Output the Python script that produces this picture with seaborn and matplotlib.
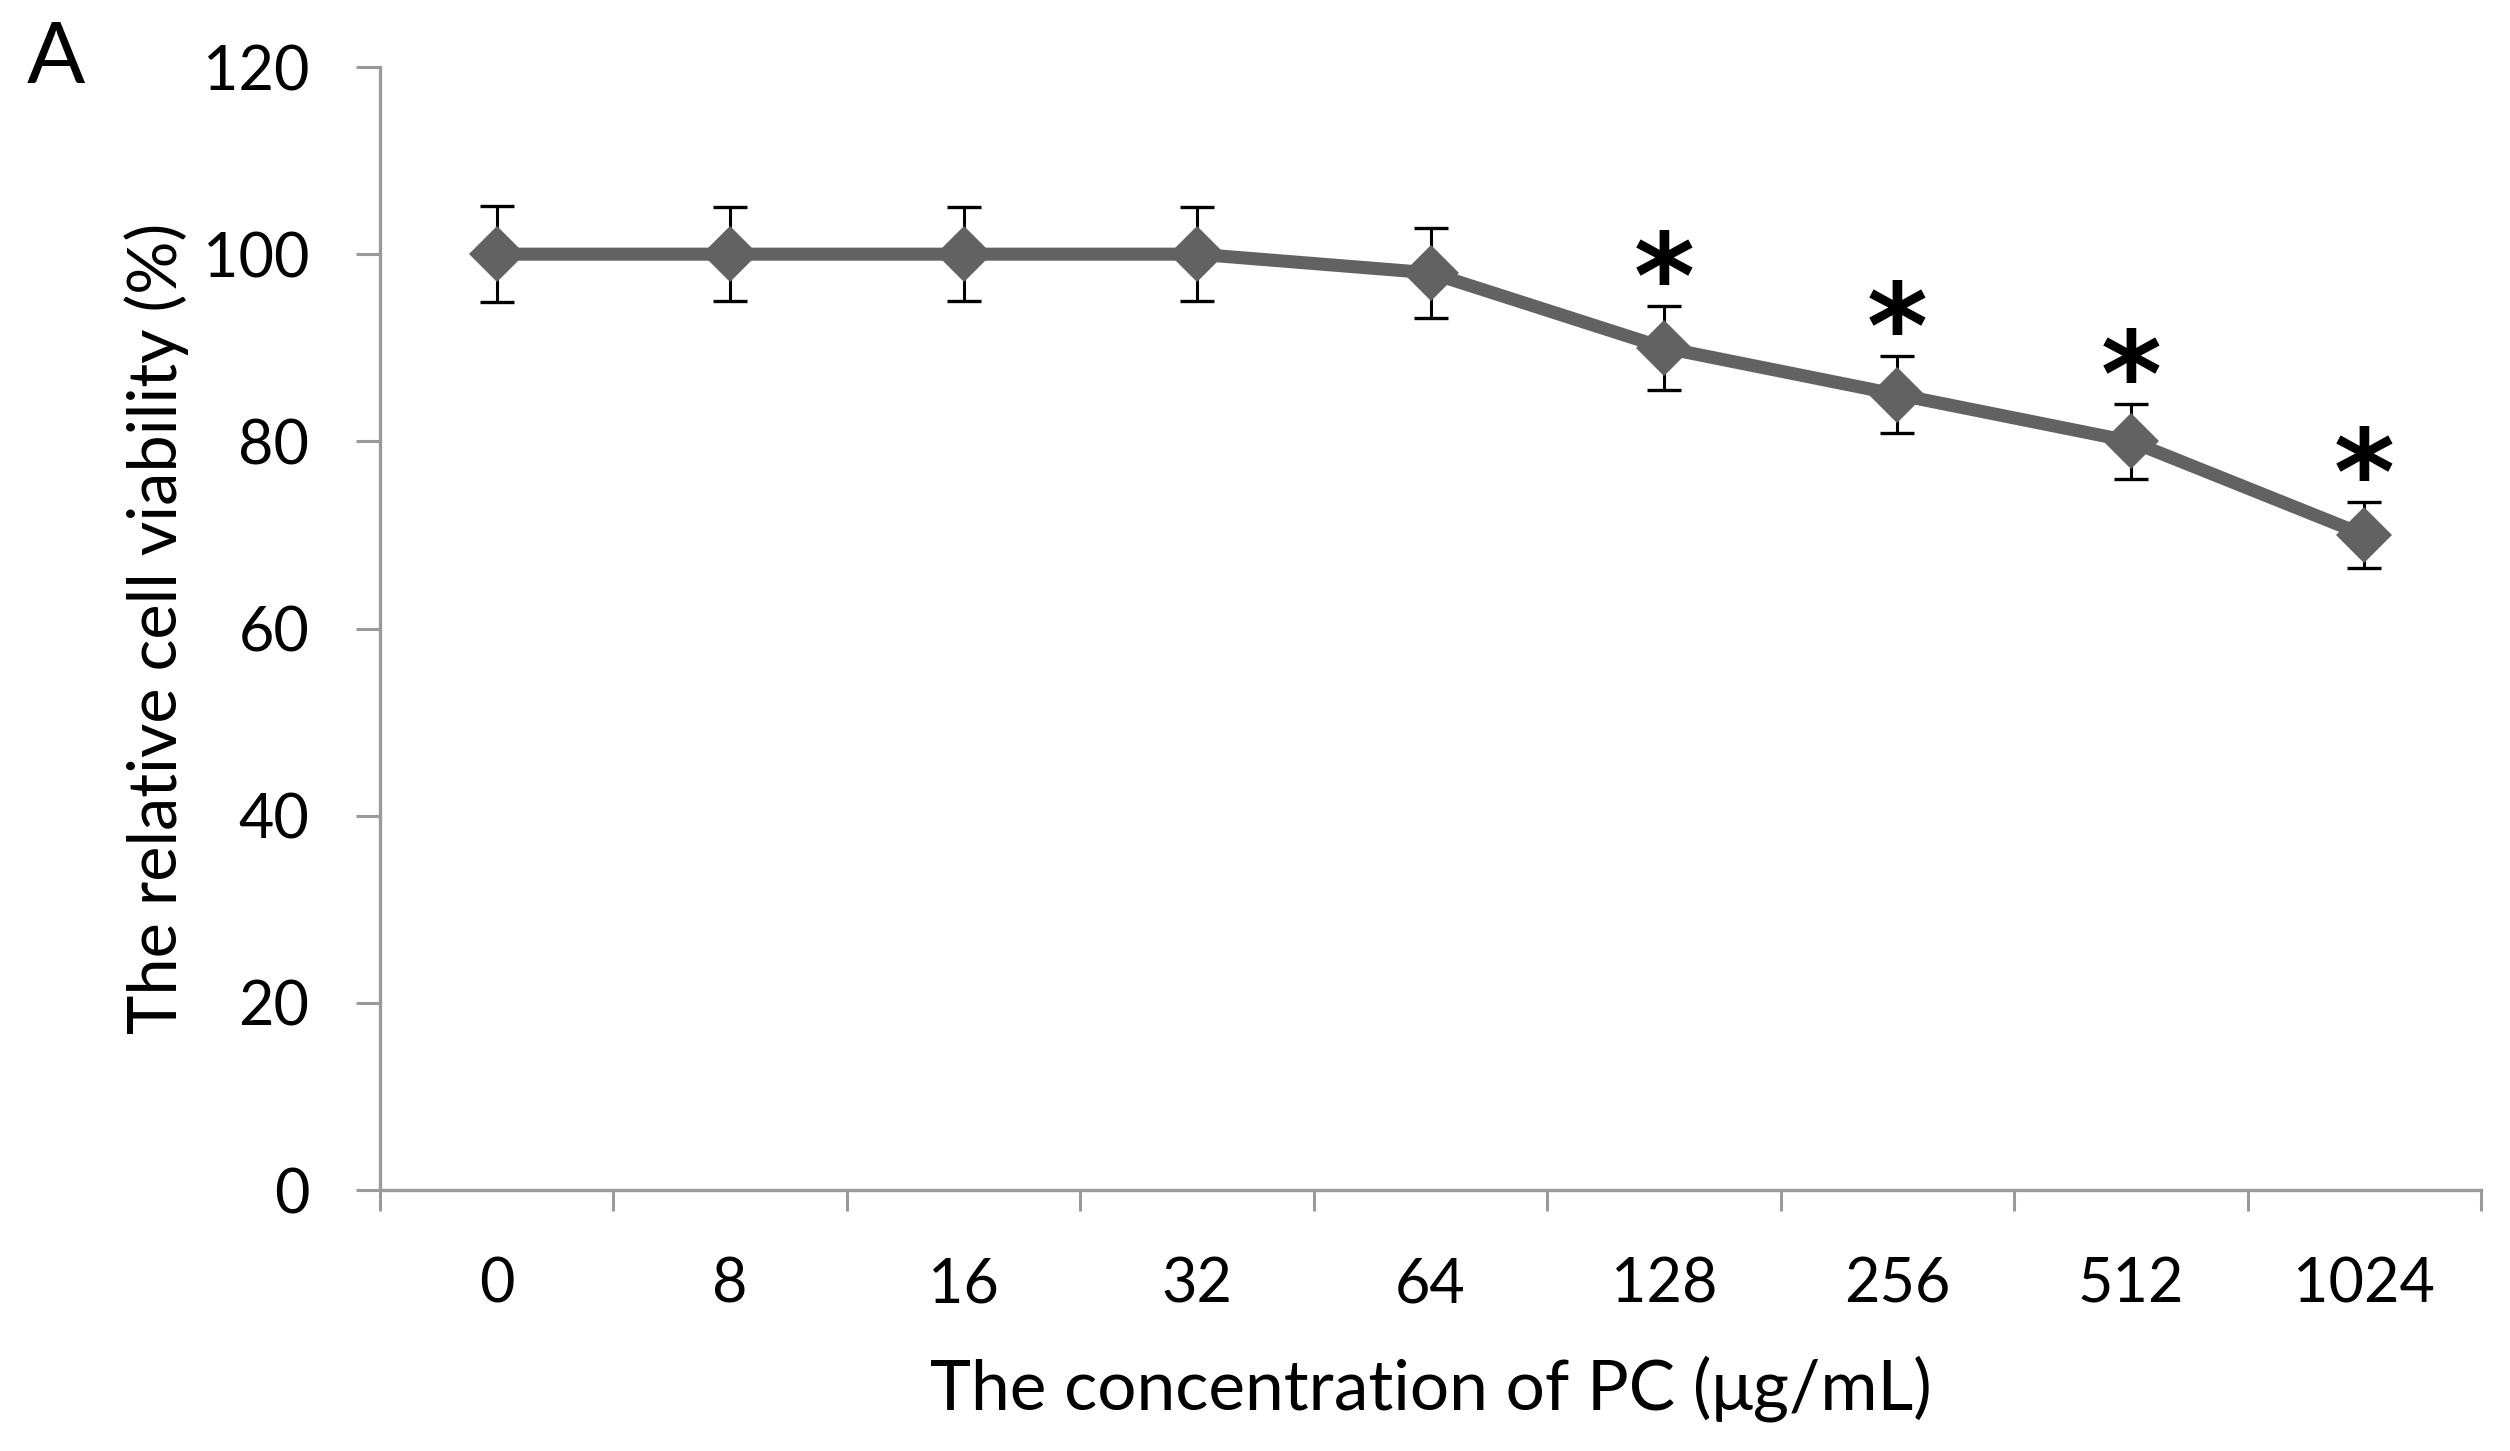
import matplotlib
matplotlib.use("Agg")
import matplotlib.pyplot as plt
import seaborn as sns
import numpy as np
import pandas as pd
from matplotlib.ticker import FixedLocator

# ---- data ----
concentrations = ["0", "8", "16", "32", "64", "128", "256", "512", "1024"]
viability = [100, 100, 100, 100, 98, 90, 85, 80, 70]
errors = [5.1, 5.0, 5.0, 5.0, 4.8, 4.5, 4.1, 4.0, 3.5]
significant = [False, False, False, False, False, True, True, True, True]
y_ticks = [0, 20, 40, 60, 80, 100, 120]

sns.set_style("white")
plt.rcParams["font.family"] = ["Lato", "DejaVu Sans"]

DPI = 100
fig = plt.figure(figsize=(2510 / DPI, 1451 / DPI), dpi=DPI)
ax = fig.add_axes([380 / 2510, 1 - 1190 / 1451, (2481 - 380) / 2510, (1190 - 67) / 1451])

df = pd.DataFrame({"conc": concentrations, "viab": viability})

sns.pointplot(data=df, x="conc", y="viab", order=concentrations, errorbar=None,
              color="#626262", markers="D", linestyles="-", ax=ax,
              markersize=28.5, linewidth=9.4, markeredgewidth=0)

xpos = np.arange(len(concentrations))
ax.errorbar(xpos, viability, yerr=errors, fmt="none", ecolor="black",
            elinewidth=2.2, capsize=12, capthick=2.4, zorder=1.5)

for i, (v, e, s) in enumerate(zip(viability, errors, significant)):
    if s:
        ax.annotate("*", xy=(i, v + e), xytext=(0, -12), textcoords="offset pixels",
                    ha="center", va="baseline", fontsize=84, fontweight="bold",
                    family=["DejaVu Sans"], color="black")

ax.set_xlim(-0.5, len(concentrations) - 0.5)
ax.set_ylim(0, 120)
ax.set_yticks(y_ticks)
ax.set_yticklabels([str(t) for t in y_ticks])
ax.set_xticks(xpos)
ax.set_xticklabels(concentrations)
ax.xaxis.set_minor_locator(FixedLocator(np.arange(-0.5, len(concentrations), 1.0)))

axis_color = "#9a9a9a"
for side in ["top", "right"]:
    ax.spines[side].set_visible(False)
for side in ["left", "bottom"]:
    ax.spines[side].set_color(axis_color)
    ax.spines[side].set_linewidth(2.4)

ax.tick_params(which="both", bottom=True, left=True, top=False, right=False)
ax.tick_params(axis="y", which="major", direction="out", length=17, width=2.2,
               color=axis_color, labelsize=44, pad=34, labelcolor="black")
ax.tick_params(axis="x", which="major", length=0, labelsize=44, pad=48, labelcolor="black")
ax.tick_params(axis="x", which="minor", direction="out", length=15, width=2.2, color=axis_color)

ax.set_xlabel("The concentration of PC (μg/mL)", fontsize=50, labelpad=30, color="black")
ax.set_ylabel("The relative cell viability (%)", fontsize=48, labelpad=10, color="black")

fig.text(27 / 2510, 1 - 20 / 1451, "A", fontsize=62, ha="left", va="top", color="black")

fig.savefig("out.png", dpi=DPI, facecolor="white")
